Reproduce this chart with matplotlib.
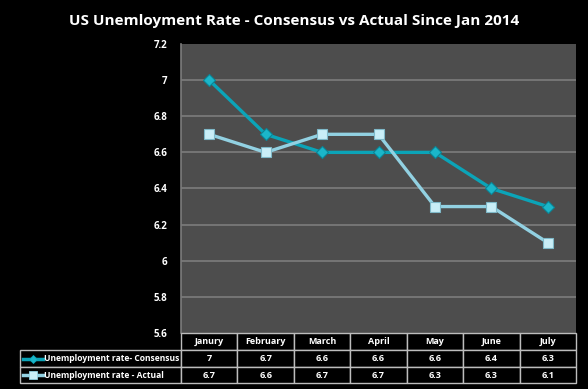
import matplotlib.pyplot as plt
from matplotlib.patches import Rectangle
from matplotlib.lines import Line2D

plt.rcParams['font.family'] = ['Open Sans', 'DejaVu Sans']

months = ['Janury', 'February', 'March', 'April', 'May', 'June', 'July']
consensus = [7, 6.7, 6.6, 6.6, 6.6, 6.4, 6.3]
actual = [6.7, 6.6, 6.7, 6.7, 6.3, 6.3, 6.1]
consensus_txt = ['7', '6.7', '6.6', '6.6', '6.6', '6.4', '6.3']
actual_txt = ['6.7', '6.6', '6.7', '6.7', '6.3', '6.3', '6.1']
series_names = ['Unemployment rate- Consensus', 'Unemployment rate - Actual']
yticks = [5.6, 5.8, 6, 6.2, 6.4, 6.6, 6.8, 7, 7.2]

c_cons = '#0ba4b8'
c_act = '#92d1e2'

W, H = 588, 389
fig = plt.figure(figsize=(W / 100, H / 100), dpi=100, facecolor='black')

# plot area in pixels
L, R, T, B = 181, 576, 44, 333
ax = fig.add_axes([L / W, 1 - B / H, (R - L) / W, (B - T) / H])
ax.set_facecolor('#4d4d4d')
x = list(range(len(months)))
ax.plot(x, consensus, color=c_cons, lw=2.4, marker='D', ms=6,
        mfc='#1bb6c9', mec='#0a8596', mew=0.8, zorder=3)
ax.plot(x, actual, color=c_act, lw=2.4, marker='s', ms=7.5,
        mfc='#c9eef7', mec='#7fb9c9', mew=0.8, zorder=3)
ax.set_xlim(-0.5, len(months) - 0.5)
ax.set_ylim(5.6, 7.2)
ax.set_yticks(yticks)
ax.set_yticklabels(['%g' % v for v in yticks], color='white', fontsize=7, fontweight='bold')
ax.tick_params(axis='y', length=0, pad=10)
ax.set_xticks([])
for v in yticks[1:-1]:
    ax.axhline(v, color='#7c7c7c', lw=1.2, zorder=1)
for s in ['top', 'right', 'bottom']:
    ax.spines[s].set_visible(False)
ax.spines['left'].set_color('#7c7c7c')
ax.spines['left'].set_linewidth(1.2)

fig.text(0.5, 1 - 21 / H, 'US Unemloyment Rate - Consensus vs Actual Since Jan 2014',
         ha='center', va='center', color='white', fontsize=11, fontweight='bold')

# data table under the plot
def fx(px):
    return px / W

def fy(py):
    return 1 - py / H

edge = '#bdbdbd'
colw = (R - L) / len(months)
rows_y = [333, 350, 367, 383]
tx = 20
fs = 6.1

def cell(x0, y0, x1, y1):
    fig.patches.append(Rectangle((fx(x0), fy(y1)), fx(x1) - fx(x0), fy(y0) - fy(y1),
                                 transform=fig.transFigure, facecolor='black',
                                 edgecolor=edge, lw=1))

for i, m in enumerate(months):
    x0 = L + i * colw
    cell(x0, rows_y[0], x0 + colw, rows_y[1])
    fig.text(fx(x0 + colw / 2), fy((rows_y[0] + rows_y[1]) / 2), m, ha='center',
             va='center', color='white', fontsize=fs + 0.4, fontweight='bold')

for r, (name, vals, col, mk, ms, mfc) in enumerate([
        (series_names[0], consensus_txt, c_cons, 'D', 4, '#1bb6c9'),
        (series_names[1], actual_txt, c_act, 's', 6, '#c9eef7')]):
    y0, y1 = rows_y[r + 1], rows_y[r + 2]
    cell(tx, y0, L, y1)
    ym = fy((y0 + y1) / 2)
    fig.lines.append(Line2D([fx(tx + 3), fx(tx + 23)], [ym, ym], transform=fig.transFigure,
                            color=col, lw=2.5))
    fig.lines.append(Line2D([fx(tx + 13)], [ym], transform=fig.transFigure, marker=mk,
                            ms=ms, mfc=mfc, mec=col, mew=0.6))
    fig.text(fx(tx + 24), ym, name, ha='left', va='center', color='white',
             fontsize=fs, fontweight='bold')
    for i, v in enumerate(vals):
        x0 = L + i * colw
        cell(x0, y0, x0 + colw, y1)
        fig.text(fx(x0 + colw / 2), ym, v, ha='center', va='center', color='white',
                 fontsize=fs + 0.4, fontweight='bold')

fig.savefig('out.png', dpi=100, facecolor='black')
